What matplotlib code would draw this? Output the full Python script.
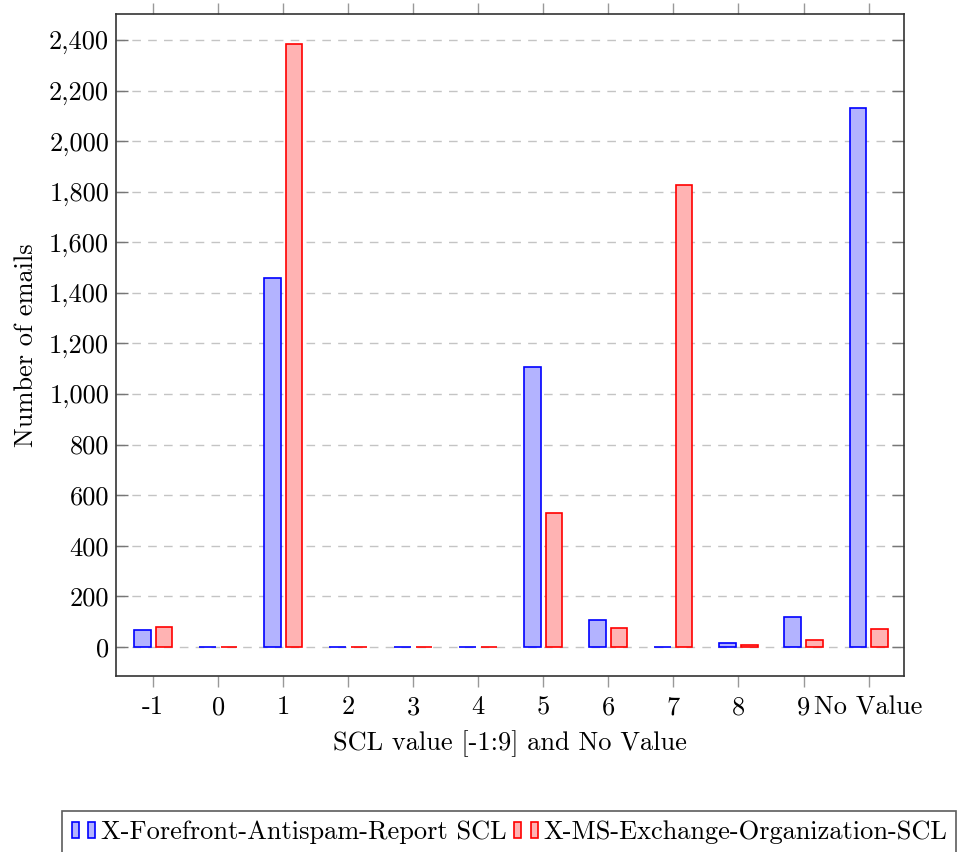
import numpy as np
import matplotlib.pyplot as plt
from matplotlib.patches import Rectangle
from matplotlib.legend_handler import HandlerTuple

categories = ["-1", "0", "1", "2", "3", "4", "5", "6", "7", "8", "9", "No Value"]
forefront = [65, 0, 1460, 0, 0, 0, 1105, 108, 0, 14, 117, 2130]
exchange = [79, 0, 2383, 0, 0, 0, 530, 75, 1825, 8, 29, 71]
yticks = list(range(0, 2401, 200))

plt.rcParams['font.family'] = ['cmr10', 'DejaVu Serif']
plt.rcParams['axes.formatter.use_mathtext'] = True

fig = plt.figure(figsize=(9.59, 8.52), dpi=100)
ax = fig.add_axes([0.121, 0.2066, 0.822, 0.777])

x = np.arange(len(categories))
w = 0.255
off = 0.165
blue_fill = (0.7, 0.7, 1.0)
red_fill = (1.0, 0.7, 0.7)
ax.bar(x - off, forefront, w, color=blue_fill, edgecolor='blue', linewidth=1.2, zorder=3)
ax.bar(x + off, exchange, w, color=red_fill, edgecolor='red', linewidth=1.2, zorder=3)

ax.set_xlim(-0.57, 11.55)
ax.set_ylim(-115, 2503)
ax.set_xticks(x)
ax.set_xticklabels(categories)
ax.set_yticks(yticks)
ax.set_yticklabels([f"{v:,}" for v in yticks])
ax.grid(axis='y', color='#c4c4c4', linestyle=(0, (6.2, 5.2)), linewidth=1, zorder=0)

ax.tick_params(axis='x', direction='out', top=True, length=8, width=1, color='#999999',
               labelsize=19, pad=6)
ax.tick_params(axis='y', direction='in', right=True, length=8.5, width=1, color='#777777',
               labelsize=19, pad=5)
for s in ax.spines.values():
    s.set_color('#333333')
    s.set_linewidth(1.2)

ax.set_xlabel("SCL value [-1:9] and No Value", fontsize=19, labelpad=8)
ax.set_ylabel("Number of emails", fontsize=19, labelpad=8)

def icon(fc, ec):
    return Rectangle((0, 0), 1, 1, facecolor=fc, edgecolor=ec, linewidth=1.2)

handles = [(icon(blue_fill, 'blue'), icon(blue_fill, 'blue')),
           (icon(red_fill, 'red'), icon(red_fill, 'red'))]
leg = fig.legend(handles, ["X-Forefront-Antispam-Report SCL", "X-MS-Exchange-Organization-SCL"],
                 handler_map={tuple: HandlerTuple(ndivide=None, pad=0.35)},
                 loc='upper left', bbox_to_anchor=(0.065, 0.048), bbox_transform=fig.transFigure,
                 ncol=2, fontsize=19, frameon=True, fancybox=False, edgecolor='#333333',
                 handlelength=0.9, handleheight=0.55, handletextpad=0.2, columnspacing=0.3,
                 borderpad=0.35, borderaxespad=0)
leg.get_frame().set_linewidth(1.2)

fig.savefig("out.png", dpi=100)
